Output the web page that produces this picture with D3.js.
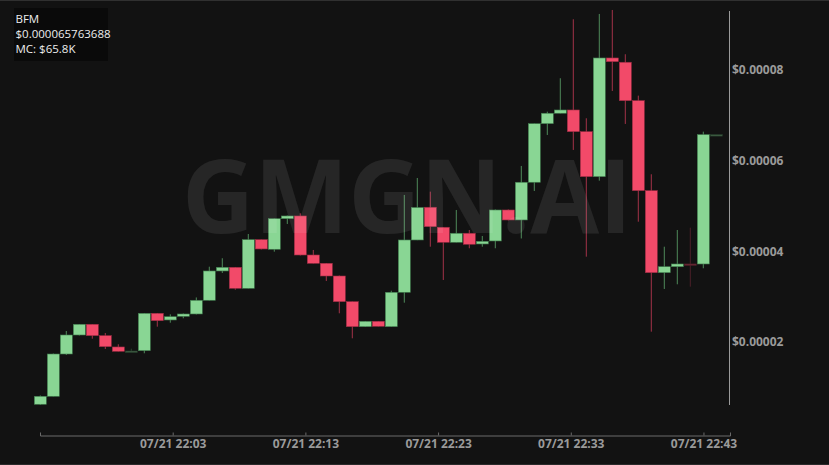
<!DOCTYPE html>
<html><head><meta charset="utf-8">
<script src="https://cdn.jsdelivr.net/npm/d3@7"></script>
<style>html,body{margin:0;padding:0;background:#121212;overflow:hidden}</style>
</head><body><svg id="c" width="829" height="465"></svg>
<script>
const symbol = "BFM";
const priceText = "$0.000065763688";
const mcText = "MC: $65.8K";
const watermark = "GMGN.AI";
// prices in units of 1e-5 (one candle per minute, 21:53 → 22:45)
const opensE5  = [0.633,0.809,1.741,2.160,2.396,2.145,1.896,1.806,1.814,2.638,2.491,2.572,2.623,2.925,3.571,3.652,3.189,4.261,4.049,4.723,4.783,3.923,3.740,3.460,2.894,2.343,2.462,2.343,3.101,4.254,4.975,4.534,4.203,4.402,4.166,4.232,4.915,4.695,5.526,6.817,7.047,7.119,6.641,5.649,8.265,8.171,7.324,5.341,3.533,3.665,3.726,3.725,6.5763];
const highsE5  = [0.827,1.752,2.248,2.402,2.402,2.204,1.955,1.858,2.645,2.645,2.616,2.634,2.987,3.665,3.851,3.659,4.386,4.265,4.728,4.794,4.842,4.034,3.747,3.471,2.899,2.469,2.469,3.136,5.246,5.620,5.319,4.540,4.915,4.474,4.342,4.926,4.926,5.885,6.822,7.082,7.818,9.118,6.936,9.235,9.323,8.347,7.435,5.702,4.106,4.474,4.525,6.641,6.5764];
const lowsE5   = [0.617,0.805,1.719,2.149,2.078,1.851,1.796,1.792,1.757,2.343,2.431,2.528,2.612,2.920,3.527,3.158,3.185,4.045,3.996,4.607,3.912,3.736,3.350,2.638,2.087,2.336,2.347,2.336,2.872,4.250,4.106,3.372,4.199,4.071,4.106,4.071,4.684,4.287,5.334,6.568,7.043,6.238,3.886,5.561,7.538,6.811,4.657,2.233,3.174,3.277,3.225,3.630,6.5763];
const closesE5 = [0.809,1.741,2.160,2.396,2.145,1.902,1.801,1.807,2.638,2.475,2.563,2.623,2.925,3.571,3.652,3.189,4.261,4.056,4.723,4.783,3.923,3.740,3.460,2.894,2.343,2.462,2.352,3.101,4.254,4.970,4.547,4.203,4.402,4.159,4.225,4.915,4.695,5.526,6.817,7.047,7.119,6.641,5.649,8.265,8.184,7.324,5.341,3.533,3.665,3.725,3.725,6.5764,6.5764];
const startTime = "2025-07-21T21:53";
const endTime = "2025-07-21T22:45";
const tickTimes = ["2025-07-21T22:03","2025-07-21T22:13","2025-07-21T22:23","2025-07-21T22:33","2025-07-21T22:43"];
const tickLabels = ["07/21 22:03","07/21 22:13","07/21 22:23","07/21 22:33","07/21 22:43"];
const priceTicks = [0.00002,0.00004,0.00006,0.00008];
const priceTickLabels = ["$0.00002","$0.00004","$0.00006","$0.00008"];

const E5 = 1e-5;
const candles = opensE5.map((o,i)=>({i, o:o*E5, h:highsE5[i]*E5, l:lowsE5[i]*E5, c:closesE5[i]*E5}));

const svg = d3.select("#c");
const W = 829, H = 465;
svg.append("rect").attr("width",W).attr("height",H).attr("fill","#121212");
svg.append("line").attr("x1",0).attr("x2",W).attr("y1",0.5).attr("y2",0.5).attr("stroke","#303030");
svg.append("line").attr("x1",0).attr("x2",W).attr("y1",H-0.5).attr("y2",H-0.5).attr("stroke","#2a2a2a");

const y = d3.scaleLinear().domain([0, 0.00008]).range([433, 70]);
const xb = d3.scaleBand().domain(d3.range(candles.length)).range([33.8, 722.8]);
const xt = d3.scaleTime().domain([new Date(startTime), new Date(endTime)]).range([40, 730]);

const UP = "#89d694", DOWN = "#f24a69", UPW = "#4f8a5b", DOWNW = "#a33249";
const g = svg.append("g");
const cg = g.selectAll("g.cd").data(candles).join("g").attr("class","cd")
  .attr("opacity", d => Math.abs(d.c-d.o) < 0.002*E5 ? 0.4 : 1);
cg.append("line")
  .attr("x1", d => xb(d.i)+xb.bandwidth()/2).attr("x2", d => xb(d.i)+xb.bandwidth()/2)
  .attr("y1", d => y(d.h)).attr("y2", d => y(d.l))
  .attr("stroke", d => d.c >= d.o ? UPW : DOWNW).attr("stroke-width",1);
cg.append("rect")
  .attr("x", d => xb(d.i)+0.5).attr("width", xb.bandwidth()-1)
  .attr("y", d => y(Math.max(d.o,d.c)))
  .attr("height", d => Math.max(1.5, Math.abs(y(d.o)-y(d.c))))
  .attr("fill", d => d.c >= d.o ? UP : DOWN)
  .attr("stroke", d => d.c >= d.o ? "#3f7a4c" : "#9a2c43").attr("stroke-width",0.6);

// watermark on top
svg.append("text").attr("x",182).attr("y",233)
  .attr("font-family","'Open Sans', 'DejaVu Sans', sans-serif").attr("font-weight",700)
  .attr("font-size",102).attr("fill","#ffffff").attr("fill-opacity",0.085)
  .attr("textLength",450).attr("lengthAdjust","spacingAndGlyphs").text(watermark);

// right price axis
svg.append("line").attr("x1",729.5).attr("x2",729.5).attr("y1",11).attr("y2",405).attr("stroke","#9a9a9a").attr("stroke-width",1);
svg.selectAll("text.py").data(priceTicks).join("text").attr("class","py")
  .attr("x",732).attr("y",d=>y(d)).attr("dy","0.35em")
  .attr("font-family","'Open Sans', sans-serif").attr("font-weight",700).attr("font-size",12)
  .attr("fill","#9a9a9a").text((d,i)=>priceTickLabels[i]);

// bottom time axis
const ax = svg.append("g").attr("transform","translate(0,435.5)")
  .call(d3.axisBottom(xt).tickValues(tickTimes.map(t=>new Date(t))).tickFormat((d,i)=>tickLabels[i]).tickSize(-3).tickSizeOuter(-3).tickPadding(6));
ax.select(".domain").attr("stroke","#6a6a6a");
ax.selectAll(".tick line").attr("stroke","#6a6a6a");
ax.selectAll(".tick text").attr("fill","#9a9a9a").attr("font-family","'Open Sans', sans-serif").attr("font-weight",700).attr("font-size",12).attr("dy","0.55em");

// legend
svg.append("rect").attr("x",14).attr("y",8).attr("width",94).attr("height",53).attr("fill","#0a0a0a");
const lg = svg.append("g").attr("font-family","'Open Sans', sans-serif").attr("font-size",11.5).attr("fill","#eeeeee");
[symbol, priceText, mcText].forEach((t,i)=>lg.append("text").attr("x",15.5).attr("y",23+i*15).text(t));
</script></body></html>
